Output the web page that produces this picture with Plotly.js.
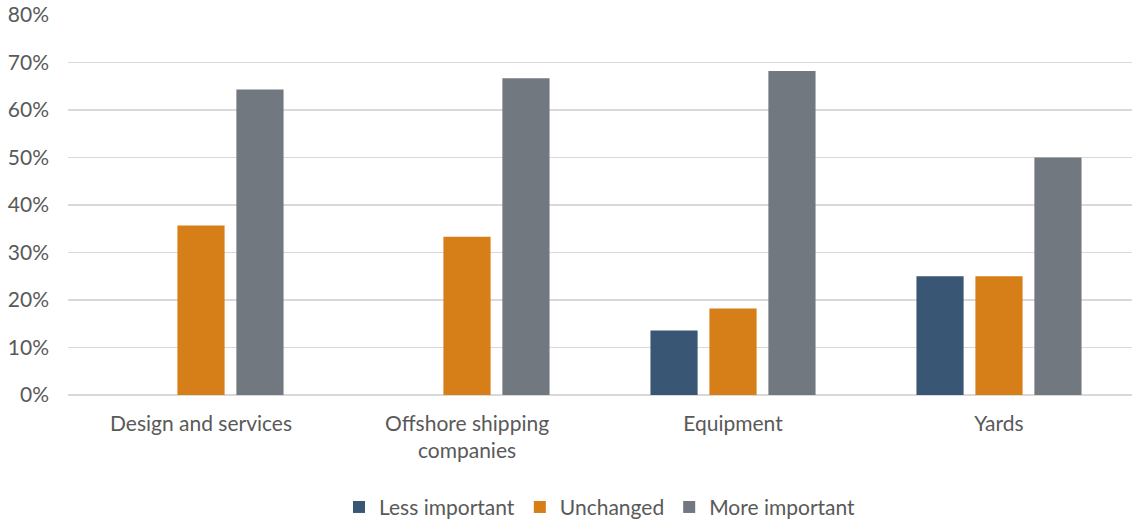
<!DOCTYPE html>
<html><head><meta charset="utf-8">
<script src="https://cdn.plot.ly/plotly-3.0.1.min.js"></script>
<style>body{margin:0;background:#fff}#c{width:1134px;height:523px}</style>
</head><body><div id="c"></div>
<script>
const categories = ["Design and services", "Offshore shipping<br>companies", "Equipment", "Yards"];
const lessImportant = [0, 0, 13.6, 25];
const unchanged = [35.7, 33.3, 18.2, 25];
const moreImportant = [64.3, 66.7, 68.2, 50];
const seriesNames = ["Less important", "Unchanged", "More important"];
const colors = ["#3A5675", "#D67E17", "#717880"];
const vals = [lessImportant, unchanged, moreImportant];
const traces = vals.map((v, i) => ({
  type: 'bar', x: categories, y: v, name: seriesNames[i],
  marker: {color: colors[i], line: {width: 0}},
  hoverinfo: 'skip'
}));
const layout = {
  width: 1134, height: 523,
  margin: {l: 68, r: 2, t: 15, b: 128},
  paper_bgcolor: '#fff', plot_bgcolor: '#fff',
  font: {family: 'Lato, "Open Sans", sans-serif', size: 21, color: '#595959'},
  barmode: 'group', bargap: 0.335, bargroupgap: 0.2,
  xaxis: {showgrid: false, zeroline: false, showline: false, ticks: '', ticklabelstandoff: 14, automargin: false,
          tickfont: {size: 21, color: '#595959'}},
  yaxis: {range: [0, 80], dtick: 10, ticksuffix: '%', showgrid: true, gridcolor: '#D9D9D9', gridwidth: 1.5,
          zeroline: true, zerolinecolor: '#D9D9D9', zerolinewidth: 1.5, showline: false, ticks: '', automargin: false,
          ticklabelstandoff: 18, tickfont: {size: 21, color: '#595959'}},
  showlegend: true,
  legend: {orientation: 'h', x: 0.5, xanchor: 'center', yref: 'container', y: 0.03, yanchor: 'middle',
           font: {size: 21, color: '#595959'}, itemwidth: 30, traceorder: 'normal'}
};
Plotly.newPlot('c', traces, layout, {displayModeBar: false, staticPlot: true});
</script></body></html>
